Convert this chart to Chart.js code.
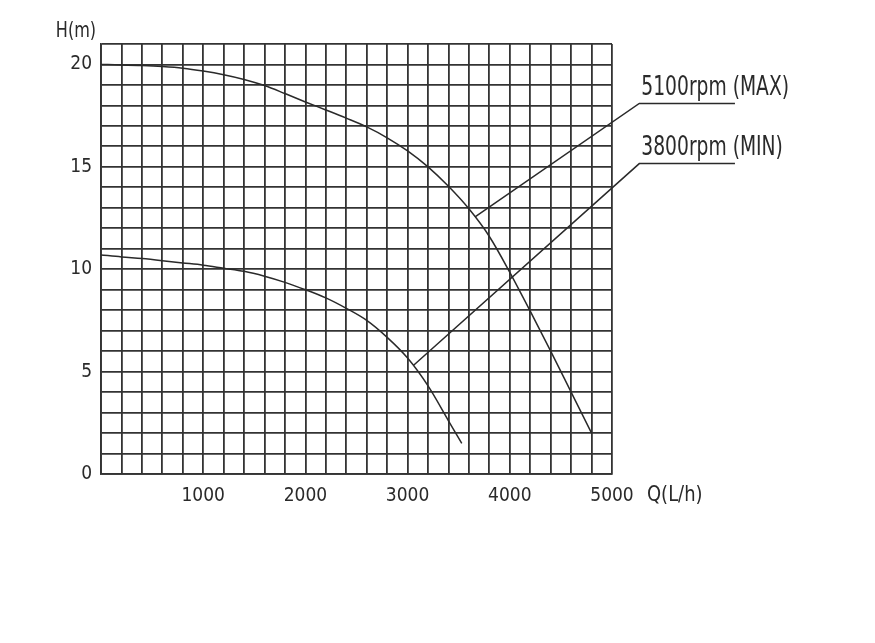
<!DOCTYPE html>
<html>
<head>
<meta charset="utf-8">
<script src="https://cdn.jsdelivr.net/npm/chart.js@4.4.0/dist/chart.umd.min.js"></script>
<style>
  html, body { margin: 0; padding: 0; background: #fff; }
  canvas { display: block; }
</style>
</head>
<body>
<canvas id="pump-chart" width="875" height="643"></canvas>
<script>
// flow Q (L/h) and head H (m)
const flowMax = [0, 200, 400, 600, 800, 1000, 1200, 1400, 1600, 1800, 2000, 2200, 2400, 2600, 2800, 3000, 3200, 3400, 3600, 3800, 4000, 4200, 4400, 4600, 4800];
const headMax = [20.0, 19.98, 19.95, 19.9, 19.82, 19.68, 19.5, 19.27, 18.97, 18.58, 18.17, 17.78, 17.38, 16.95, 16.42, 15.78, 15.0, 14.05, 12.95, 11.6, 9.85, 7.95, 6.0, 4.0, 2.0];

const flowMin = [0, 200, 400, 600, 800, 1000, 1200, 1400, 1600, 1800, 2000, 2200, 2400, 2600, 2800, 3000, 3200, 3400, 3530];
const headMin = [10.7, 10.6, 10.52, 10.42, 10.31, 10.2, 10.05, 9.9, 9.66, 9.36, 9.0, 8.6, 8.09, 7.5, 6.67, 5.66, 4.3, 2.6, 1.5];

// leader lines to the speed labels (label end first, tip on the curve last)
const leaderMaxX = [6203, 5267, 3660];
const leaderMaxY = [18.1, 18.1, 12.56];
const leaderMinX = [6203, 5267, 3056];
const leaderMinY = [15.16, 15.16, 5.3];
const curveLabels = ["5100rpm (MAX)", "3800rpm (MIN)"];

const xTickLabels = [1000, 2000, 3000, 4000, 5000];
const yTickLabels = [0, 5, 10, 15, 20];

const FONT = "'DejaVu Sans Condensed', 'Liberation Sans', sans-serif";
const INK = "#2a2a2a";
const GRID = "#333";

function toPoints(xs, ys) {
  return xs.map((x, i) => ({ x: x, y: ys[i] }));
}

// narrow text, like the CAD font of the drawing
function narrowText(ctx, text, x, y, squeeze) {
  ctx.save();
  ctx.translate(x, y);
  ctx.scale(squeeze, 1);
  ctx.fillText(text, 0, 0);
  ctx.restore();
}

// extra texts: axis titles and the curve labels
const textPlugin = {
  id: "texts",
  afterDraw(chart) {
    const ctx = chart.ctx;
    const xs = chart.scales.x;
    const ys = chart.scales.y;
    const area = chart.chartArea;
    ctx.save();
    ctx.fillStyle = INK;
    ctx.font = "21px " + FONT;
    ctx.textBaseline = "middle";
    ctx.textAlign = "center";
    narrowText(ctx, "H(m)", area.left - 25, area.top - 12, 0.85);
    ctx.textAlign = "left";
    narrowText(ctx, "Q(L/h)", area.right + 35, area.bottom + 22, 0.95);

    ctx.font = "26px " + FONT;
    ctx.textBaseline = "alphabetic";
    narrowText(ctx, curveLabels[0], xs.getPixelForValue(leaderMaxX[1]) + 2, ys.getPixelForValue(leaderMaxY[1]) - 8, 0.8);
    narrowText(ctx, curveLabels[1], xs.getPixelForValue(leaderMinX[1]) + 2, ys.getPixelForValue(leaderMinY[1]) - 9, 0.8);
    ctx.restore();
  }
};

const lineStyle = {
  borderColor: INK,
  borderWidth: 1.5,
  pointRadius: 0,
  fill: false,
};

const ctx = document.getElementById("pump-chart").getContext("2d");
const chart = new Chart(ctx, {
  type: "line",
  data: {
    datasets: [
      Object.assign({ label: curveLabels[0], data: toPoints(flowMax, headMax), cubicInterpolationMode: "monotone" }, lineStyle),
      Object.assign({ label: curveLabels[1], data: toPoints(flowMin, headMin), cubicInterpolationMode: "monotone" }, lineStyle),
      Object.assign({ label: "leader max", data: toPoints(leaderMaxX, leaderMaxY), tension: 0, clip: false }, lineStyle),
      Object.assign({ label: "leader min", data: toPoints(leaderMinX, leaderMinY), tension: 0, clip: false }, lineStyle),
    ],
  },
  options: {
    responsive: false,
    animation: false,
    layout: {
      padding: { left: 0, top: 44, right: 263, bottom: 129 },
    },
    plugins: {
      legend: { display: false },
      tooltip: { enabled: false },
    },
    scales: {
      x: {
        type: "linear",
        min: 0,
        max: 5000,
        grid: { color: GRID, lineWidth: 1.8, drawTicks: false },
        border: { color: GRID, width: 1.8 },
        ticks: {
          stepSize: 200,
          autoSkip: false,
          maxRotation: 0,
          padding: 11,
          color: INK,
          font: { family: FONT, size: 19 },
          callback: (v) => (xTickLabels.includes(v) ? String(v) : ""),
        },
        afterFit: (scale) => {
          scale.height = 40;
          scale.paddingLeft = 0;
          scale.paddingRight = 0;
        },
      },
      y: {
        min: 0,
        max: 21,
        grid: { color: GRID, lineWidth: 1.8, drawTicks: false },
        border: { color: GRID, width: 1.8 },
        ticks: {
          stepSize: 1,
          autoSkip: false,
          padding: 9,
          color: INK,
          font: { family: FONT, size: 19 },
          callback: (v) => (yTickLabels.includes(v) ? String(v) : ""),
        },
        afterFit: (scale) => {
          scale.width = 101;
          scale.paddingTop = 0;
          scale.paddingBottom = 0;
        },
      },
    },
  },
  plugins: [textPlugin],
});
</script>
</body>
</html>
